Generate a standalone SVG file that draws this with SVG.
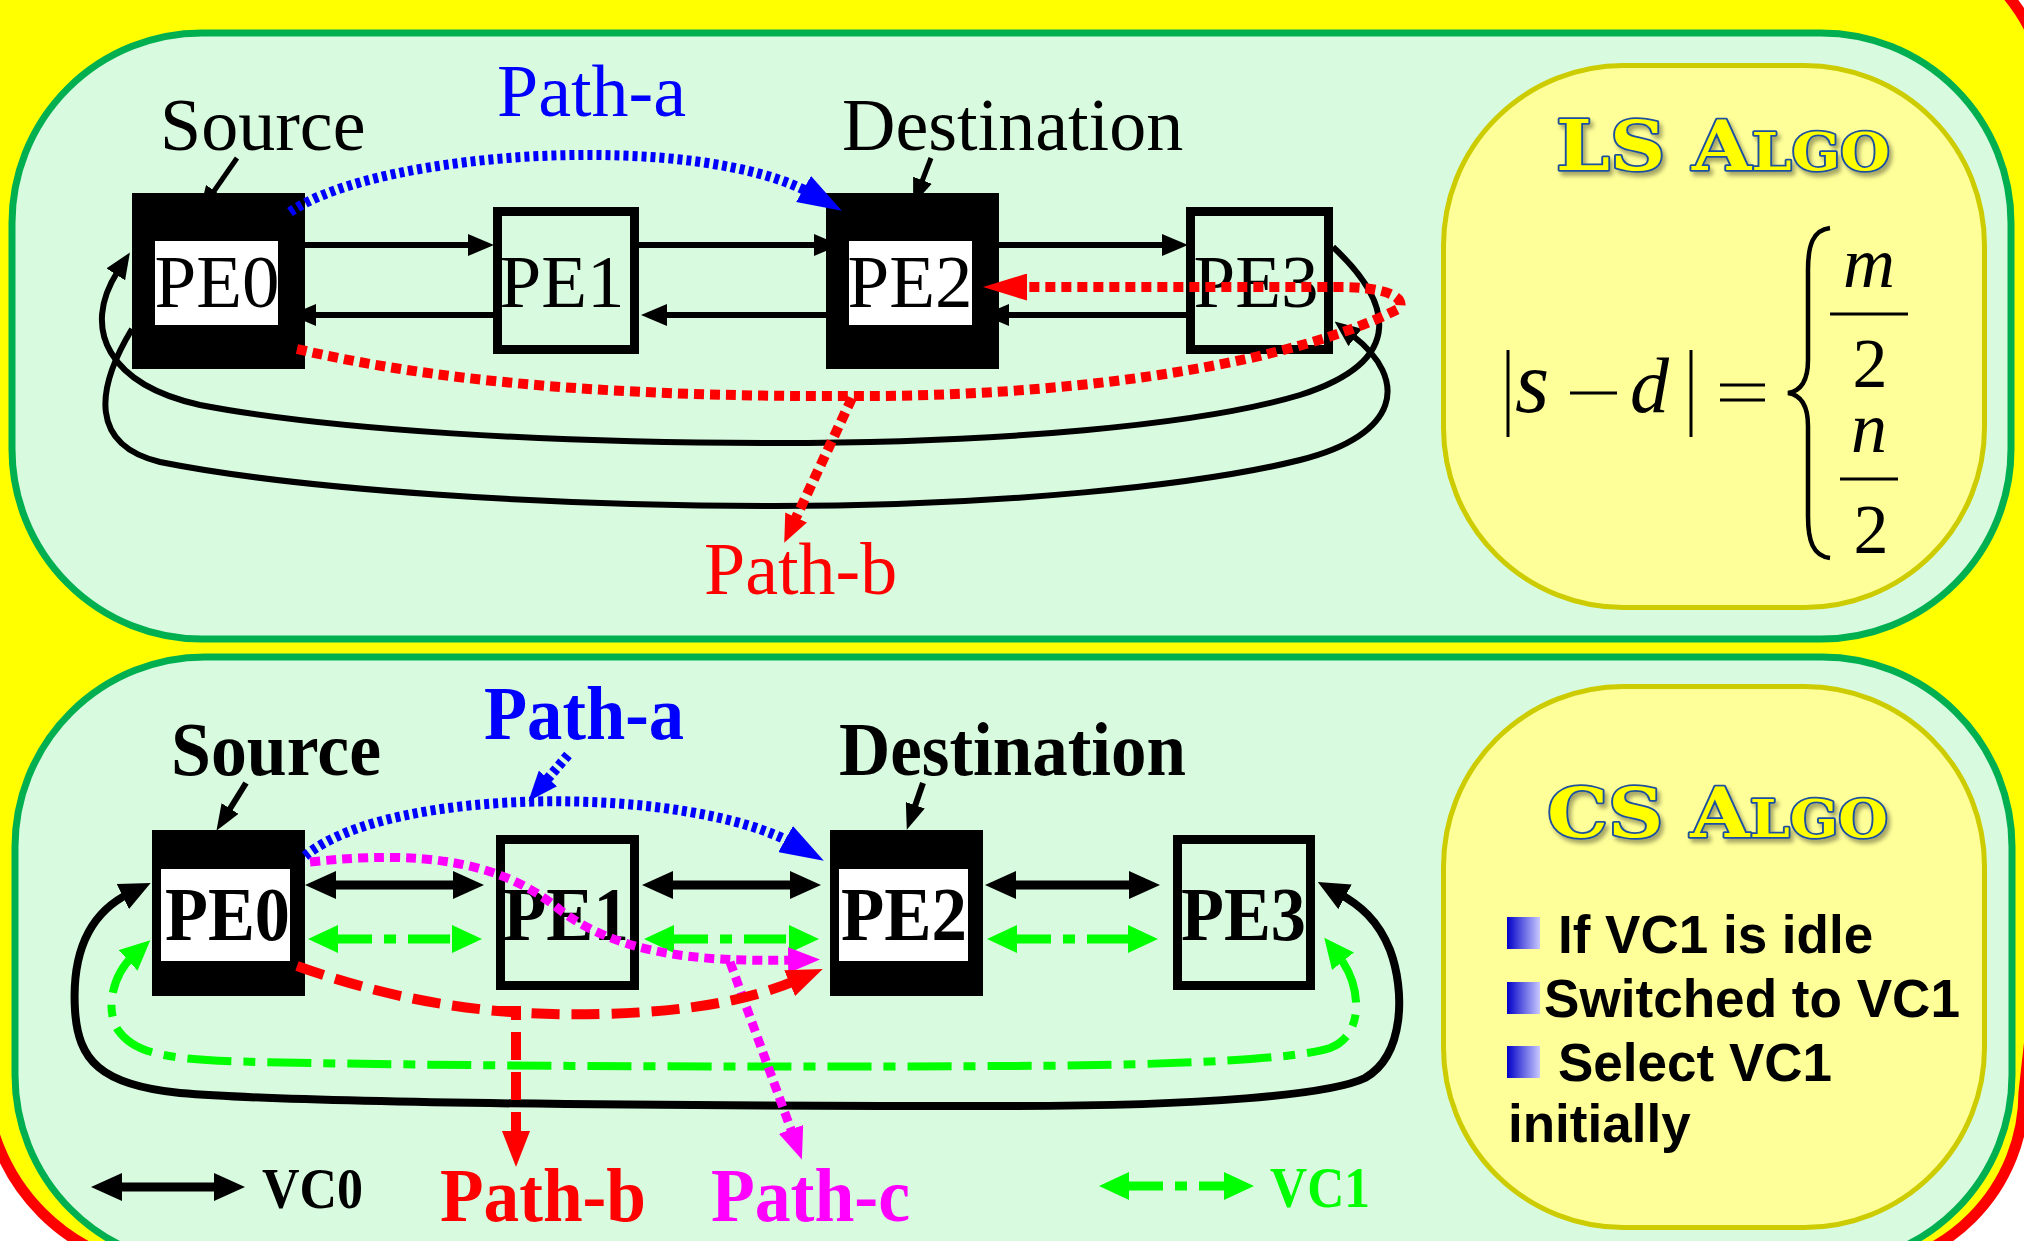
<svg xmlns="http://www.w3.org/2000/svg" width="2024" height="1241" viewBox="0 0 2024 1241">
<defs>
<style>
.panel{fill:#D8FADF;stroke:#00B050;stroke-width:7}
.ybox{fill:#FFFF99;stroke:#CCCC00;stroke-width:5}
.blk{fill:#000}
.wht{fill:#fff}
.obox{fill:none;stroke:#000;stroke-width:9}
.serif{font-family:"Liberation Serif","Times New Roman",serif}
.sans{font-family:"Liberation Sans",Arial,sans-serif;font-weight:bold;font-size:53px;fill:#000}
.title{font-family:"DejaVu Serif",serif;font-weight:bold;font-size:70px;fill:#FFFF00;stroke:#1A4FA0;stroke-width:3.5;paint-order:stroke fill;stroke-linejoin:round}
.pe{font-size:75px;fill:#000}
.peb{font-size:76px;font-weight:bold;fill:#000}
.lt{font-size:74px}
.lb{font-size:76px;font-weight:bold}
.c{fill:none}
.k6{stroke:#000;stroke-width:6}
.k5{stroke:#000;stroke-width:5}
.k9{stroke:#000;stroke-width:9}
.k8{stroke:#000;stroke-width:8}
.g9{stroke:#00FF00;stroke-width:9;stroke-dasharray:42 12 12 12}
.g8{stroke:#00FF00;stroke-width:8;stroke-dasharray:44 12 12 12}
.bd{stroke:#0000FF;stroke-width:10;stroke-dasharray:5 4}
.rd{stroke:#FF0000;stroke-width:10;stroke-dasharray:10 6}
.rdash{stroke:#FF0000;stroke-width:10;stroke-dasharray:28 12}
.md{stroke:#FF00FF;stroke-width:9;stroke-dasharray:10 6}
.m3{stroke:#000;stroke-width:3}
.it{font-style:italic}
</style>
<marker id="ak" markerUnits="userSpaceOnUse" markerWidth="26" markerHeight="22" refX="4" refY="11" orient="auto-start-reverse"><path d="M0,0 L26,11 L0,22 Z" fill="#000"/></marker>
<marker id="aks" markerUnits="userSpaceOnUse" markerWidth="26" markerHeight="20" refX="4" refY="10" orient="auto"><path d="M0,0 L26,10 L0,20 Z" fill="#000"/></marker>
<marker id="ak2" markerUnits="userSpaceOnUse" markerWidth="31" markerHeight="28" refX="8" refY="14" orient="auto-start-reverse"><path d="M0,0 L31,14 L0,28 Z" fill="#000"/></marker>
<marker id="ag" markerUnits="userSpaceOnUse" markerWidth="30" markerHeight="28" refX="8" refY="14" orient="auto-start-reverse"><path d="M0,0 L30,14 L0,28 Z" fill="#00FF00"/></marker>
<marker id="ab" markerUnits="userSpaceOnUse" markerWidth="44" markerHeight="30" refX="12" refY="15" orient="auto"><path d="M0,0 L44,15 L0,30 Z" fill="#0000FF"/></marker>
<marker id="ab2" markerUnits="userSpaceOnUse" markerWidth="30" markerHeight="24" refX="6" refY="12" orient="auto"><path d="M0,0 L30,12 L0,24 Z" fill="#0000FF"/></marker>
<marker id="ar" markerUnits="userSpaceOnUse" markerWidth="44" markerHeight="27" refX="10" refY="13.5" orient="auto"><path d="M0,0 L44,13.5 L0,27 Z" fill="#FF0000"/></marker>
<marker id="ar3" markerUnits="userSpaceOnUse" markerWidth="28" markerHeight="24" refX="5" refY="12" orient="auto"><path d="M0,0 L28,12 L0,24 Z" fill="#FF0000"/></marker>
<marker id="ar2" markerUnits="userSpaceOnUse" markerWidth="36" markerHeight="28" refX="8" refY="14" orient="auto"><path d="M0,0 L36,14 L0,28 Z" fill="#FF0000"/></marker>
<marker id="am" markerUnits="userSpaceOnUse" markerWidth="32" markerHeight="26" refX="6" refY="13" orient="auto"><path d="M0,0 L32,13 L0,26 Z" fill="#FF00FF"/></marker>
<linearGradient id="bul" x1="0" y1="0" x2="1" y2="0"><stop offset="0" stop-color="#0000C8"/><stop offset="1" stop-color="#C8C8FF"/></linearGradient>
<filter id="sh" x="-5%" y="-20%" width="115%" height="150%"><feDropShadow dx="3" dy="4" stdDeviation="2" flood-color="#000" flood-opacity="0.35"/></filter>
</defs>

<g id="background">
<rect width="2024" height="1241" fill="#FFFFFF"/>
<path d="M -15 -300 L -15 1075 A 195 195 0 0 0 180 1270 L 1846 1270 A 178 178 0 0 0 2024 1092 L 2050 860 L 2050 130 C 2050 60 2032 18 1992 -22 L 1900 -300 Z" fill="#FFFF00" stroke="#FF0000" stroke-width="11"/>
<rect class="panel" x="12" y="33" width="1999" height="606" rx="190"/>
<rect class="panel" x="15" y="657" width="1997" height="608" rx="190"/>
</g>

<g id="ls-box">
<rect class="ybox" x="1443.5" y="65.5" width="541" height="542" rx="180"/>
<text class="title" x="1556" y="170" textLength="334" lengthAdjust="spacingAndGlyphs" filter="url(#sh)">LS A<tspan font-size="52">LGO</tspan></text>
<g id="formula">
<line class="m3" x1="1508" y1="350" x2="1508" y2="437"/>
<text class="serif it" x="1515" y="412" font-size="88">s</text>
<line class="m3" x1="1570" y1="393" x2="1617" y2="393"/>
<text class="serif it" x="1630" y="412" font-size="78">d</text>
<line class="m3" x1="1691" y1="350" x2="1691" y2="437"/>
<line class="m3" x1="1720" y1="385" x2="1765" y2="385"/>
<line class="m3" x1="1720" y1="400" x2="1765" y2="400"/>
<path d="M 1830 228 C 1813 230 1808 245 1808 270 L 1808 360 C 1808 380 1801 391 1788 393 C 1801 395 1808 406 1808 426 L 1808 516 C 1808 541 1813 556 1830 558" fill="none" stroke="#000" stroke-width="4.5"/>
<text class="serif it" x="1869" y="287" font-size="72" text-anchor="middle">m</text>
<line class="m3" x1="1830" y1="314" x2="1908" y2="314"/>
<text class="serif" x="1870" y="387" font-size="70" text-anchor="middle">2</text>
<text class="serif it" x="1869" y="452" font-size="72" text-anchor="middle">n</text>
<line class="m3" x1="1840" y1="479" x2="1898" y2="479"/>
<text class="serif" x="1871" y="553" font-size="70" text-anchor="middle">2</text>
</g>
</g>

<g id="cs-box">
<rect class="ybox" x="1443.5" y="686.5" width="541" height="541" rx="180"/>
<text class="title" x="1547" y="837" textLength="341" lengthAdjust="spacingAndGlyphs" filter="url(#sh)">CS A<tspan font-size="52">LGO</tspan></text>
<rect x="1507" y="917" width="33" height="32" fill="url(#bul)"/>
<text class="sans" x="1558" y="953">If VC1 is idle</text>
<rect x="1507" y="982" width="33" height="32" fill="url(#bul)"/>
<text class="sans" x="1544" y="1017" textLength="416" lengthAdjust="spacingAndGlyphs">Switched to VC1</text>
<rect x="1507" y="1046" width="33" height="32" fill="url(#bul)"/>
<text class="sans" x="1558" y="1081">Select VC1</text>
<text class="sans" x="1508" y="1142">initially</text>
</g>

<g id="top-PE0"><rect class="blk" x="132" y="193" width="173" height="176"/><rect class="wht" x="155" y="241" width="123" height="84"/><text class="serif pe" x="217" y="307" text-anchor="middle">PE0</text></g>
<g id="top-PE1"><rect class="obox" x="497.5" y="211.5" width="137" height="138"/><text class="serif pe" x="562" y="307" text-anchor="middle">PE1</text></g>
<g id="top-PE2"><rect class="blk" x="826" y="193" width="173" height="176"/><rect class="wht" x="849" y="241" width="123" height="84"/><text class="serif pe" x="910" y="307" text-anchor="middle">PE2</text></g>
<g id="top-PE3"><rect class="obox" x="1190.5" y="211.5" width="138" height="138"/><text class="serif pe" x="1256" y="307" text-anchor="middle">PE3</text></g>

<g id="bot-PE0"><rect class="blk" x="152" y="830" width="153" height="166"/><rect class="wht" x="161" y="869" width="129" height="92"/><text class="serif peb" x="165" y="940" textLength="125" lengthAdjust="spacingAndGlyphs">PE0</text></g>
<g id="bot-PE1"><rect class="obox" x="500.5" y="839.5" width="134" height="146"/><text class="serif peb" x="503" y="940" textLength="126" lengthAdjust="spacingAndGlyphs">PE1</text></g>
<g id="bot-PE2"><rect class="blk" x="830" y="830" width="153" height="166"/><rect class="wht" x="839" y="869" width="129" height="92"/><text class="serif peb" x="841" y="940" textLength="126" lengthAdjust="spacingAndGlyphs">PE2</text></g>
<g id="bot-PE3"><rect class="obox" x="1177.5" y="839.5" width="133" height="146"/><text class="serif peb" x="1181" y="940" textLength="125" lengthAdjust="spacingAndGlyphs">PE3</text></g>

<g id="labels">
<text class="serif lt" x="160" y="150">Source</text>
<text class="serif lt" x="497" y="116" fill="#0000FF">Path-a</text>
<text class="serif lt" x="842" y="150">Destination</text>
<text class="serif lt" x="704" y="594" fill="#FF0000">Path-b</text>
<text class="serif lb" x="171" y="775" textLength="210" lengthAdjust="spacingAndGlyphs">Source</text>
<text class="serif lb" x="484" y="739" fill="#0000FF" textLength="200" lengthAdjust="spacingAndGlyphs">Path-a</text>
<text class="serif lb" x="839" y="775" textLength="347" lengthAdjust="spacingAndGlyphs">Destination</text>
<text class="serif lb" x="440" y="1221" fill="#FF0000" textLength="206" lengthAdjust="spacingAndGlyphs">Path-b</text>
<text class="serif lb" x="711" y="1221" fill="#FF00FF" textLength="199" lengthAdjust="spacingAndGlyphs">Path-c</text>
<text class="serif" x="262" y="1208" font-size="58" font-weight="bold" textLength="101" lengthAdjust="spacingAndGlyphs">VC0</text>
<text class="serif" x="1270" y="1207" font-size="58" font-weight="bold" fill="#00FF00" textLength="100" lengthAdjust="spacingAndGlyphs">VC1</text>
</g>

<g id="connectors" class="c">
<path class="k5" d="M 237 158 L 212 194" marker-end="url(#aks)"/>
<path class="k5" d="M 931 158 L 921 184" marker-end="url(#aks)"/>
<path class="k6" d="M 305 245 L 472 245" marker-end="url(#ak)"/>
<path class="k6" d="M 493 315 L 312 315" marker-end="url(#ak)"/>
<path class="k6" d="M 639 245 L 818 245" marker-end="url(#ak)"/>
<path class="k6" d="M 826 315 L 663 315" marker-end="url(#ak)"/>
<path class="k6" d="M 999 245 L 1166 245" marker-end="url(#ak)"/>
<path class="k6" d="M 1186 315 L 1005 315" marker-end="url(#ak)"/>
<path class="k6" d="M 1333 247 C 1390 300 1410 360 1300 395 C 1200 425 1000 443 775 443 C 550 443 330 430 200 405 C 110 385 80 330 118 271" marker-end="url(#ak)"/>
<path class="k6" d="M 132 329 C 95 390 90 445 160 462 C 300 490 550 506 775 506 C 1000 506 1200 485 1300 460 C 1400 435 1410 380 1352 335" marker-end="url(#ak)"/>
<path class="bd" d="M 290 212 C 380 150 700 130 814 195" marker-end="url(#ab)"/>
<path class="rd" d="M 297 349 C 480 392 700 397 880 396 C 1100 394 1300 360 1400 308 C 1405 295 1380 287 1340 287 L 1017 287" marker-end="url(#ar)"/>
<path class="rd" d="M 852 398 L 794 522" marker-end="url(#ar3)"/>
<path class="k6" d="M 246 783 L 228 812" marker-end="url(#aks)"/>
<path class="k6" d="M 923 783 L 914 809" marker-end="url(#aks)"/>
<path class="k9" d="M 328 885 L 461 885" marker-start="url(#ak2)" marker-end="url(#ak2)"/>
<path class="k9" d="M 665 885 L 798 885" marker-start="url(#ak2)" marker-end="url(#ak2)"/>
<path class="k9" d="M 1008 885 L 1137 885" marker-start="url(#ak2)" marker-end="url(#ak2)"/>
<path class="g9" d="M 330 939 L 460 939" marker-start="url(#ag)" marker-end="url(#ag)"/>
<path class="g9" d="M 666 939 L 797 939" marker-start="url(#ag)" marker-end="url(#ag)"/>
<path class="g9" d="M 1009 939 L 1136 939" marker-start="url(#ag)" marker-end="url(#ag)"/>
<path class="k8" d="M 130 893 C 85 915 72 960 75 1010 C 78 1060 100 1085 180 1093 C 300 1103 600 1106 1012 1106 C 1200 1106 1330 1095 1365 1078 C 1405 1055 1405 990 1390 950 C 1378 920 1360 905 1338 893" marker-start="url(#ak2)" marker-end="url(#ak2)"/>
<path class="g8" d="M 134 955 C 112 975 105 1010 118 1030 C 135 1055 170 1060 260 1062 C 500 1067 800 1067 1012 1066 C 1200 1065 1300 1058 1330 1048 C 1365 1035 1362 985 1338 955" marker-start="url(#ag)" marker-end="url(#ag)"/>
<path class="bd" d="M 305 856 C 390 785 690 785 796 845" marker-end="url(#ab)"/>
<path class="bd" d="M 568 755 L 544 783" marker-end="url(#ab2)"/>
<path class="md" d="M 310 862 C 420 850 500 860 560 910 C 620 955 700 962 794 960" marker-end="url(#am)"/>
<path class="md" d="M 730 962 L 793 1135" marker-end="url(#am)"/>
<path class="rdash" d="M 297 966 C 420 1010 520 1016 600 1014 C 690 1012 750 1000 797 980" marker-end="url(#ar2)"/>
<path class="rdash" d="M 497 1011 L 516 1011 L 516 1139" marker-end="url(#ar2)"/>
<path class="k9" d="M 114 1187 L 222 1187" marker-start="url(#ak2)" marker-end="url(#ak2)"/>
<path class="g9" d="M 1121 1186 L 1232 1186" marker-start="url(#ag)" marker-end="url(#ag)"/>
</g>
</svg>
